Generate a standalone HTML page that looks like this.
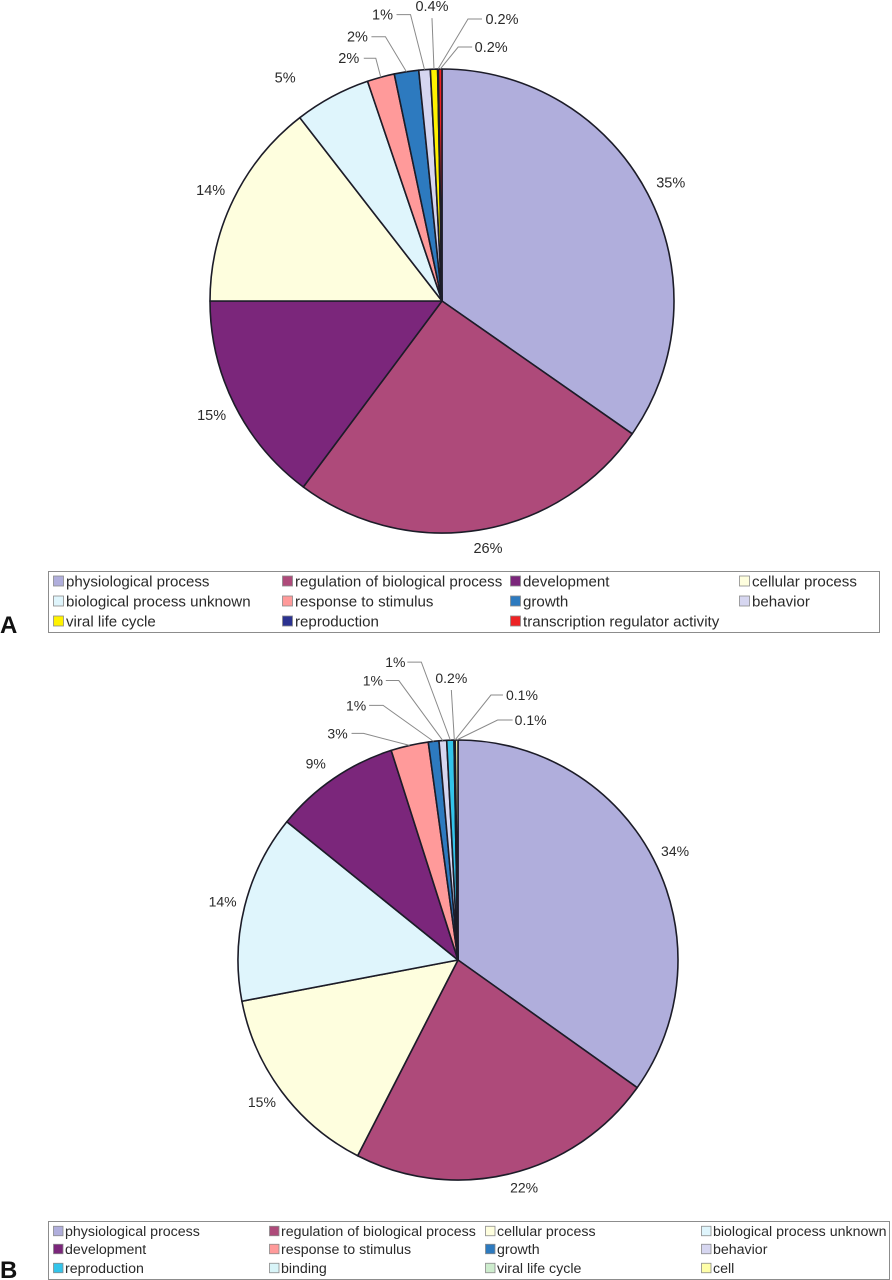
<!DOCTYPE html>
<html>
<head>
<meta charset="utf-8">
<title>Pie charts A and B</title>
<style>
html,body{margin:0;padding:0;background:#fff;}
svg{display:block;}
text{font-family:"Liberation Sans",Arial,sans-serif;fill:#2a2a2a;}
</style>
</head>
<body>
<svg id="chart" xmlns="http://www.w3.org/2000/svg" width="892" height="1280" viewBox="0 0 892 1280"></svg>
<script>
// ---- Data: panel A ----
const categoriesA = ["physiological process","regulation of biological process","development","cellular process","biological process unknown","response to stimulus","growth","behavior","viral life cycle","reproduction","transcription regulator activity"];
const valuesA = [34.7,25.5,14.8,14.5,5.3,1.9,1.7,0.8,0.5,0.05,0.25];
const printedA = ["35%","26%","15%","14%","5%","2%","2%","1%","0.4%","0.2%","0.2%"];

// ---- Data: panel B ----
const categoriesB = ["physiological process","regulation of biological process","cellular process","biological process unknown","development","response to stimulus","growth","behavior","reproduction","binding","viral life cycle","cell"];
const valuesB = [34.85,22.69,14.46,13.81,9.28,2.75,0.78,0.56,0.53,0.05,0.04,0.2];
const printedB = ["34%","22%","15%","14%","9%","3%","1%","1%","1%","0.2%","0.1%","0.1%"];

// ---- Style / layout (not data) ----
const palette = {
  "physiological process":"#b0aedc",
  "regulation of biological process":"#ae4a7a",
  "development":"#7b267b",
  "cellular process":"#fefede",
  "biological process unknown":"#dff5fc",
  "response to stimulus":"#ff9a9a",
  "growth":"#2d7abf",
  "behavior":"#d6d6f0",
  "viral life cycle":"#fff200",
  "reproduction":"#2b3290",
  "transcription regulator activity":"#ed2224"
};
const paletteB = Object.assign({}, palette, {
  "reproduction":"#33c4ea",
  "binding":"#d8f4f8",
  "viral life cycle":"#cdeccd",
  "cell":"#fefea8"
});
// label placement relative to each slice's outer-edge midpoint:
// [dx, dy, gap from label centre to leader end, horizontal leader run]; gap -1 = vertical leader, 0 = none
const placementA = [[23,-11,0,0],[9,18,0,0],[-23,10,0,0],[-23,-9,0,0],[-47,-19,0,0],[-32,-19,15,12],[-49,-35,14,14],[-42,-55,14,14],[-2,-63,-1,0],[64,-50,20,14],[51,-22,19,14]];
const placementB = [[21.5,-8,0,0],[14,14,0,0],[-20,10,0,0],[-22,-5,0,0],[-18,-15,0,0],[-72,-12,14,12],[-77.5,-36,13,14],[-70,-60,13,13],[-55,-78,12,14],[-3,-62,-1,0],[67,-45,19,12],[74,-20,18,15]];

const NS = "http://www.w3.org/2000/svg";
const root = document.getElementById("chart");

function make(tag, attrs, parent) {
  const el = document.createElementNS(NS, tag);
  for (const k in attrs) el.setAttribute(k, attrs[k]);
  parent.appendChild(el);
  return el;
}
function slug(s) { return s.replace(/\s+/g, "-"); }
function polar(cx, cy, r, deg) {
  const a = deg * Math.PI / 180;
  return [cx + r * Math.sin(a), cy - r * Math.cos(a)];
}

function drawPie(panel, cx, cy, r, cats, vals, printed, place, colors, labelSize) {
  const group = make("g", {}, root);
  
  
  const total = vals.reduce((a, b) => a + b, 0);
  let cum = 0;
  vals.forEach((v, i) => {
    const start = cum / total * 360;
    cum += v;
    const end = cum / total * 360;
    const p0 = polar(cx, cy, r, start);
    const p1 = polar(cx, cy, r, end);
    const large = end - start > 180 ? 1 : 0;
    const slice = make("path", {
      d: `M${cx} ${cy}L${p0[0]} ${p0[1]}A${r} ${r} 0 ${large} 1 ${p1[0]} ${p1[1]}Z`,
      fill: colors[cats[i]], stroke: "#1c1c28", "stroke-width": 1.6, "stroke-linejoin": "round"
    }, group);
    
    
  });
  cum = 0;
  vals.forEach((v, i) => {
    const mid = (cum + v / 2) / total * 360;
    cum += v;
    const a = polar(cx, cy, r, mid);
    const pl = place[i];
    const lx = a[0] + pl[0], ly = a[1] + pl[1];
    if (pl[2] === -1) {
      const leader = make("polyline", {
        points: `${a[0]},${a[1]} ${lx},${ly + 12}`,
        fill: "none", stroke: "#8a8a8a", "stroke-width": 1
      }, group);
      
      
    } else if (pl[2] > 0) {
      const dir = pl[0] < 0 ? 1 : -1;
      const ex = lx + dir * pl[2];
      const bx = ex + dir * pl[3];
      const leader = make("polyline", {
        points: `${a[0]},${a[1]} ${bx},${ly} ${ex},${ly}`,
        fill: "none", stroke: "#8a8a8a", "stroke-width": 1
      }, group);
      
      
    }
    const t = make("text", {x: lx, y: ly + 5, "text-anchor": "middle", "font-size": labelSize}, group);
    t.textContent = printed[i];
    
    
  });
}

function drawLegend(panel, box, colX, rowY, swatch, textGap, fontSize, cats, colors) {
  const group = make("g", {}, root);
  
  
  const frame = make("rect", {x: box[0], y: box[1], width: box[2], height: box[3], fill: "#fff", stroke: "#8c8c8c", "stroke-width": 1}, group);
  
  
  cats.forEach((c, i) => {
    const x = colX[i % colX.length];
    const y = rowY[Math.floor(i / colX.length)];
    const sw = make("rect", {x: x + 0.5, y: y - swatch / 2, width: swatch, height: swatch, fill: colors[c], stroke: "#8a8a8a", "stroke-width": 0.8}, group);
    
    
    const t = make("text", {x: x + textGap, y: y + fontSize * 0.36, "font-size": fontSize}, group);
    t.textContent = c;
    
    
  });
}

function panelLetter(letter, x, y) {
  const t = make("text", {x: x, y: y, "font-size": 24, "font-weight": "bold"}, root);
  t.setAttribute("style", "fill:#111");
  t.textContent = letter;
  
  
}

drawPie("a", 442, 301, 232, categoriesA, valuesA, printedA, placementA, palette, 14.5);
drawLegend("a", [48.5,571.5,831,61], [53,282,510,739], [581,601,621], 10, 13, 15.1, categoriesA, palette);
panelLetter("A", 0, 633);

drawPie("b", 458, 960, 220, categoriesB, valuesB, printedB, placementB, paletteB, 14);
drawLegend("b", [48.5,1221.5,841,58], [53,269,485,701], [1231,1249,1268], 9.5, 12, 14.2, categoriesB, paletteB);
panelLetter("B", 0, 1278);
</script>
</body>
</html>
